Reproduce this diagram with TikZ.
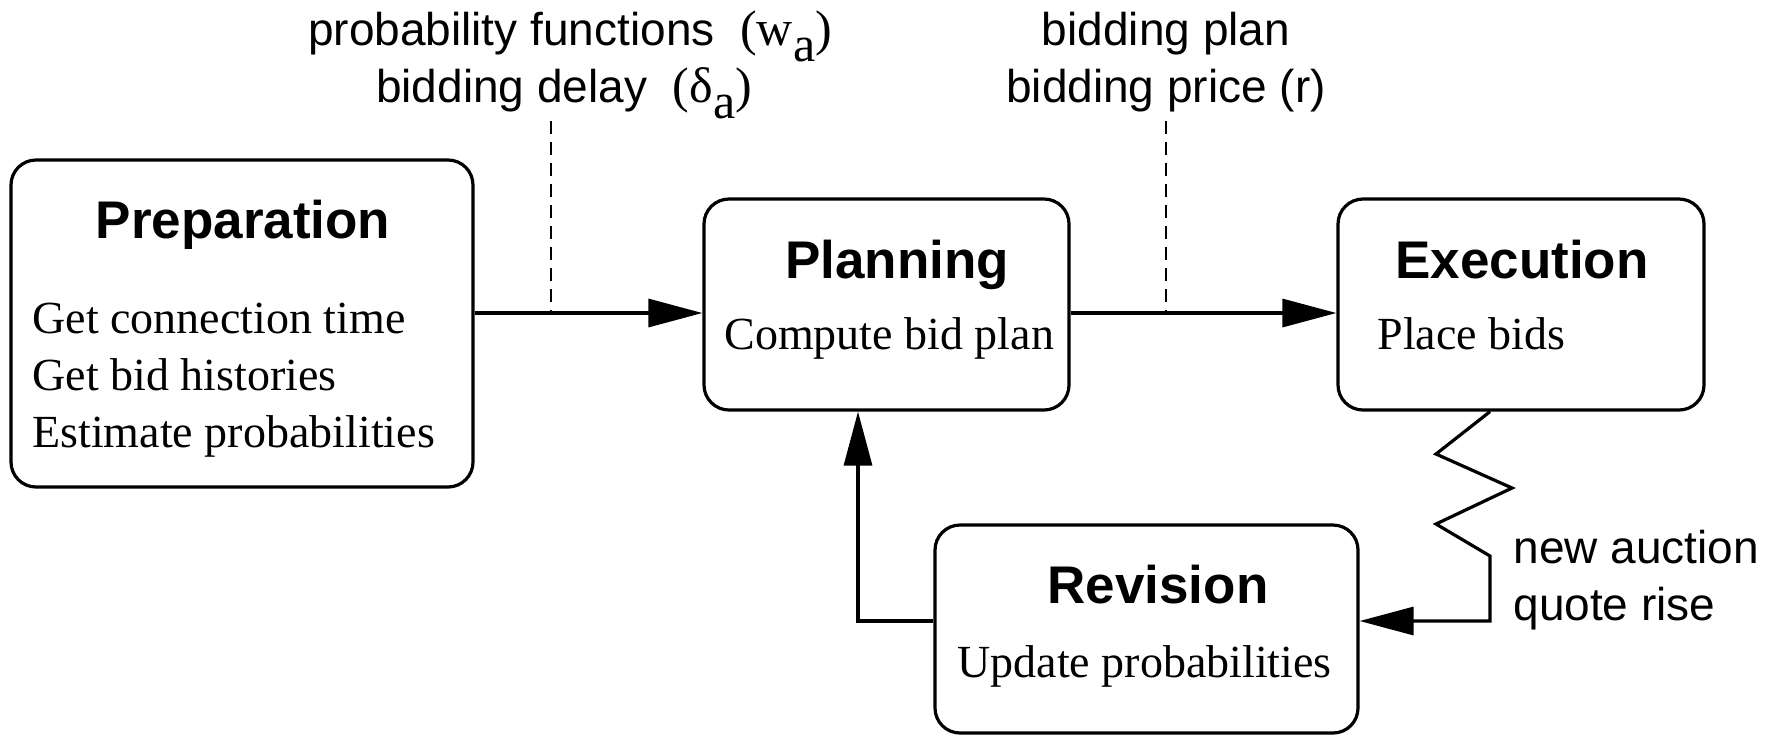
\documentclass[tikz,border=0pt]{standalone}
\usepackage{fontspec}
\setmainfont{Liberation Serif}
\setsansfont{Liberation Sans}
\usetikzlibrary{arrows.meta}

% serif symbol part of a sans label, with a lowered subscript
\newcommand{\symtag}[1]{{\rmfamily\fontsize{25}{29}\selectfont #1}}
\newcommand{\lowsub}[1]{\raisebox{-8pt}{#1}}

\tikzset{
  stage/.style={draw=black, line width=1.6pt, rounded corners=12.5pt, inner sep=0pt},
  heading/.style={font=\sffamily\bfseries\fontsize{26.5}{30}\selectfont, inner sep=0pt, anchor=base},
  task/.style={font=\fontsize{23}{27}\selectfont, inner sep=0pt, anchor=base west},
  note/.style={font=\sffamily\fontsize{23}{27}\selectfont, inner sep=0pt, anchor=base},
  flow/.style={line width=1.6pt, line join=miter, -{Triangle[length=27pt,width=14pt]}},
  tap/.style={line width=0.7pt, dash pattern=on 6.5pt off 4pt},
}

\begin{document}
\begin{tikzpicture}[x=0.5pt,y=-0.5pt]
\useasboundingbox (0,0) rectangle (1780,736);

% stage boxes
\node[stage, minimum width=231pt, minimum height=163.5pt] (prep) at (242,323.5) {};
\node[stage, minimum width=182.5pt, minimum height=105.5pt] (plan) at (886.5,304.5) {};
\node[stage, minimum width=183pt, minimum height=105.5pt] (exec) at (1521,304.5) {};
\node[stage, minimum width=211.5pt, minimum height=104pt] (rev) at (1146.5,629) {};

% headings
\node[heading] (prepT) at (243,238) {Preparation};
\node[heading] (planT) at (897,278) {Planning};
\node[heading] (execT) at (1522,278) {Execution};
\node[heading] (revT) at (1158,603) {Revision};

% tasks
\node[task] (prep1) at (32,333) {Get connection time};
\node[task] (prep2) at (32,390) {Get bid histories};
\node[task] (prep3) at (32,447) {Estimate probabilities};
\node[task] (plan1) at (724,349) {Compute bid plan};
\node[task] (exec1) at (1377,349) {Place bids};
\node[task] (rev1) at (957,677) {Update probabilities};

% main flow
\coordinate (row) at (0,313);
\draw[flow] (prep.east |- row) -- (plan.west |- row);
\draw[flow] (plan.east |- row) -- (exec.west |- row);

% data passed along the flow
\coordinate (tapA) at (551,121);
\coordinate (tapB) at (1166,121);
\draw[tap] (tapA) -- (tapA |- row);
\draw[tap] (tapB) -- (tapB |- row);
\node[note] (dataA1) at (570,45) {probability functions\ \ \symtag{(w\lowsub{a})}};
\node[note] (dataA2) at (564,102) {bidding delay\ \ \symtag{(δ\lowsub{a})}};
\node[note] (dataB1) at (1166,45) {bidding plan};
\node[note] (dataB2) at (1166,102) {bidding price (r)};

% revision loop
\coordinate (back) at (858,621);
\draw[flow] (rev.west |- back) -- (back) -- (back |- plan.south);

\coordinate (zz) at (1490,621);
\draw[flow] (exec.south -| zz) -- (1436,454) -- (1512,488) -- (1436,524) -- (1490,556) -- (zz) -- (rev.east |- zz);

\node[note, anchor=base west] (ev1) at (1513,563) {new auction};
\node[note, anchor=base west] (ev2) at (1513,620) {quote rise};
\end{tikzpicture}
\end{document}
